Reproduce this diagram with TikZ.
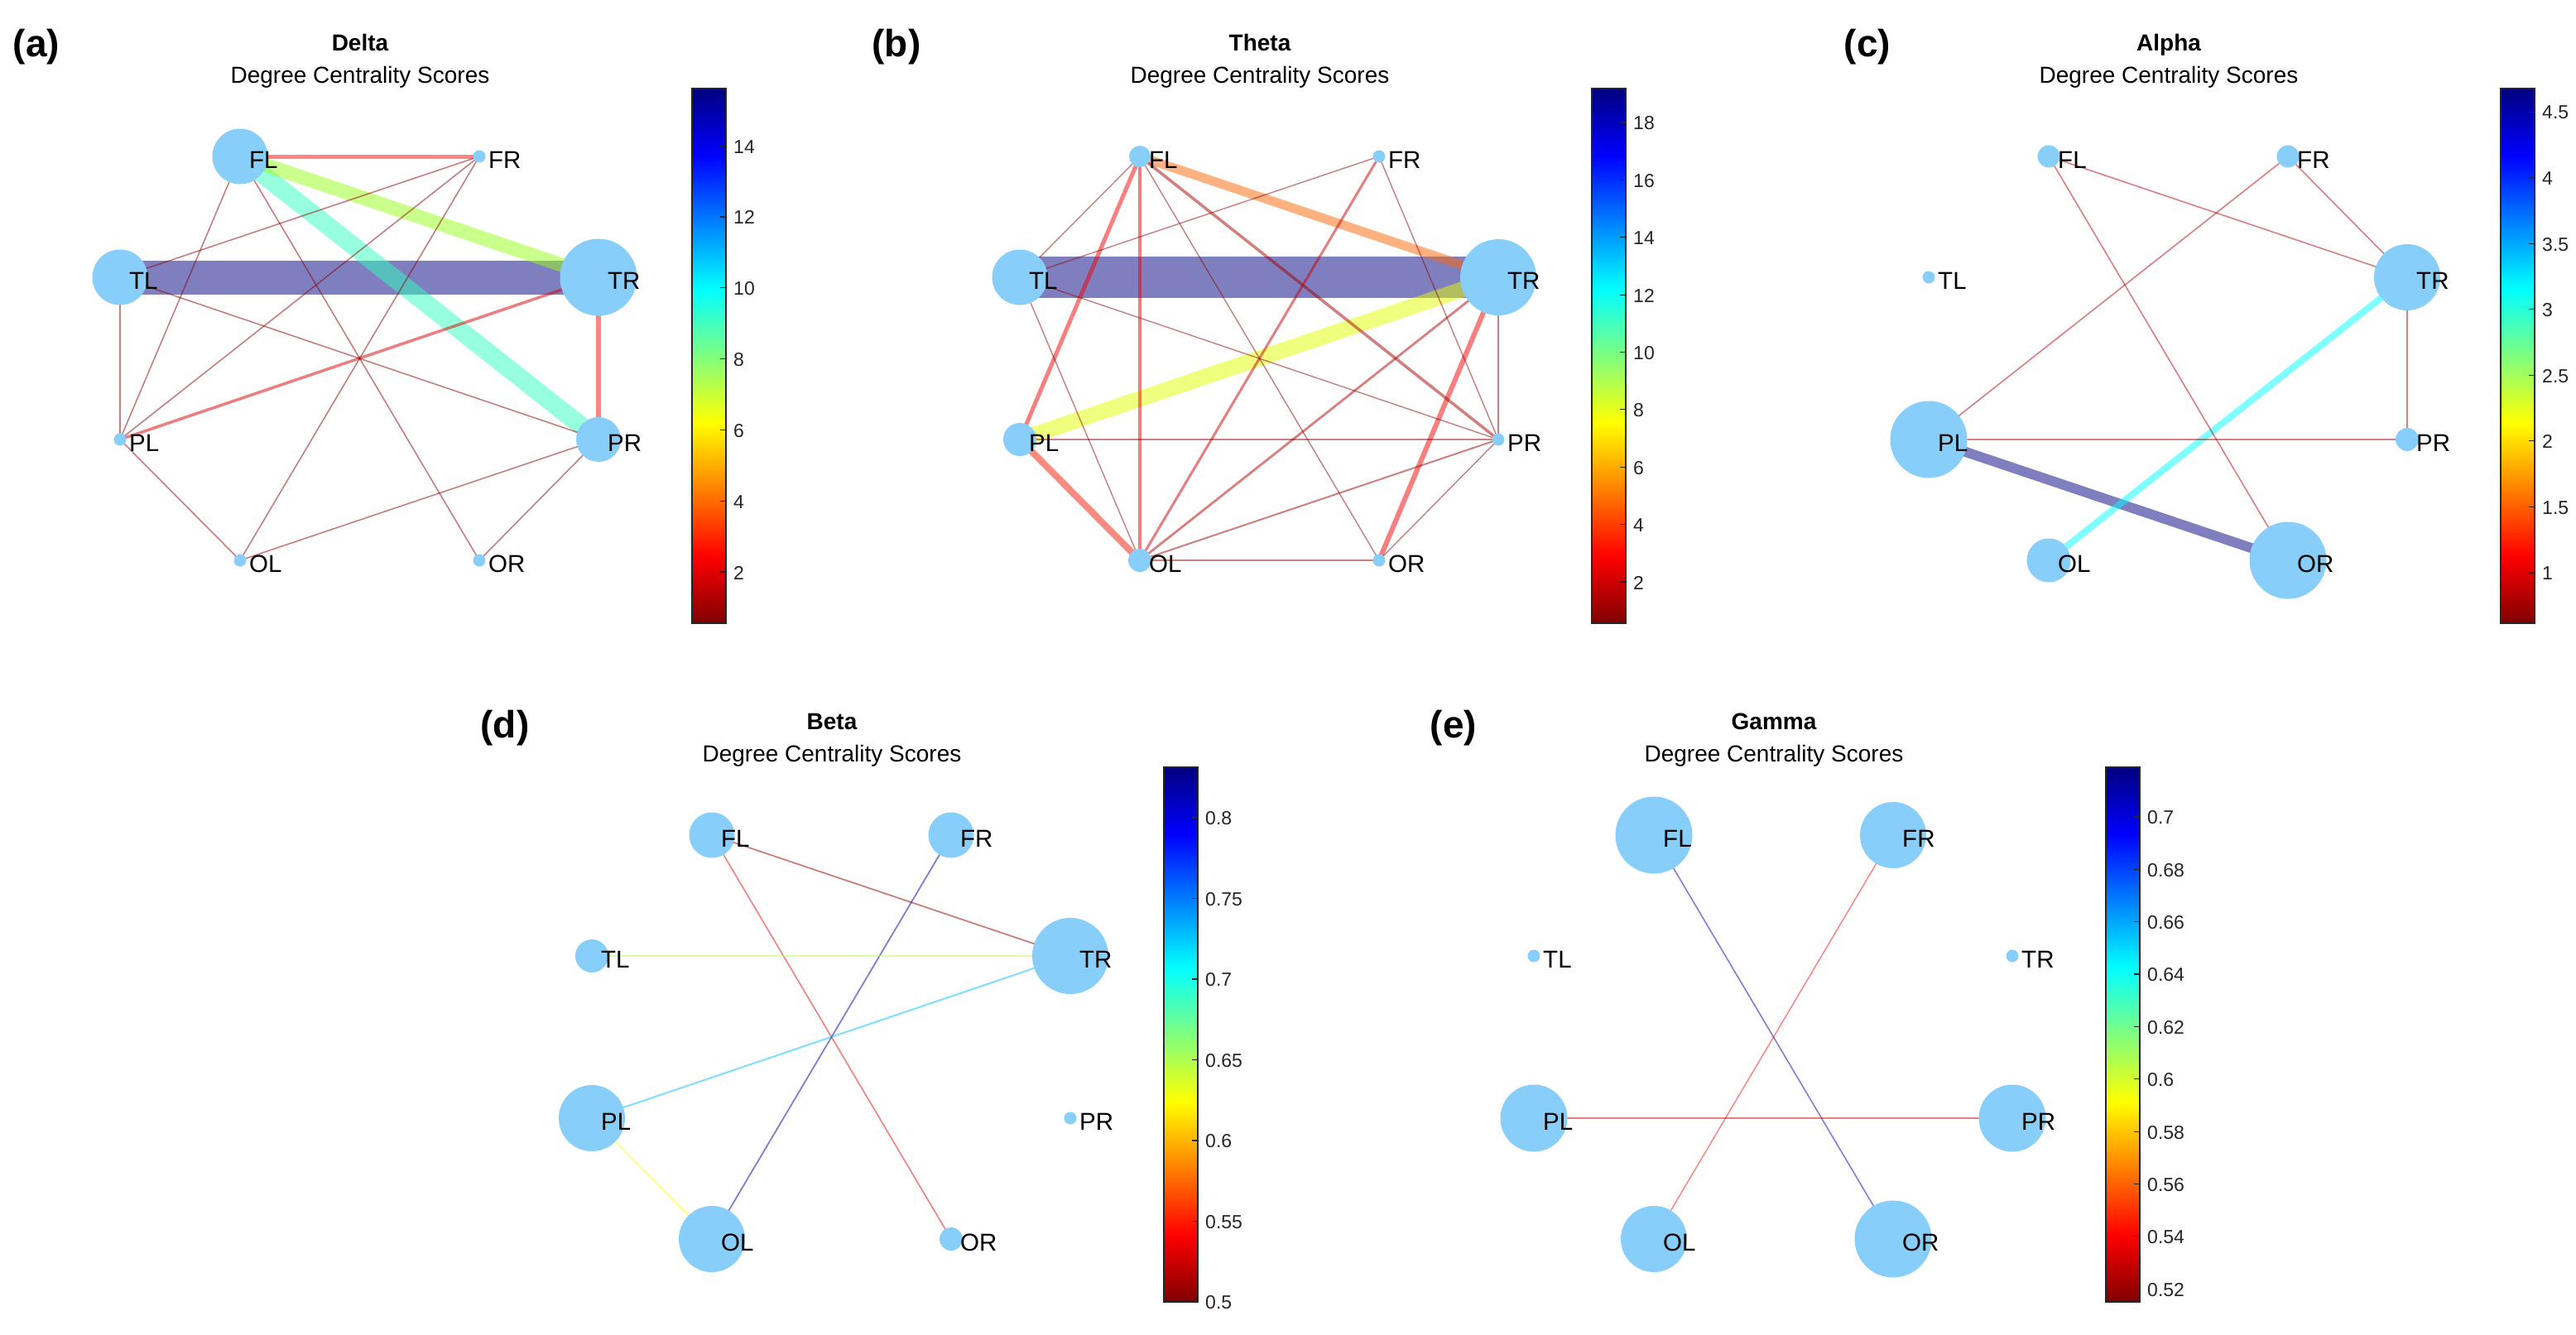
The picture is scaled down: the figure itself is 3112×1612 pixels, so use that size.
\documentclass[tikz,border=0pt]{standalone}
\usepackage{fontspec}
\setmainfont{Liberation Sans}
\pgfdeclarelayer{background}
\pgfdeclarelayer{edges}
\pgfsetlayers{background,edges,main}
\definecolor{jdr}{rgb}{0.5,0,0}
\definecolor{jred}{rgb}{1,0,0}
\definecolor{jyel}{rgb}{1,1,0}
\definecolor{jcyan}{rgb}{0,1,1}
\definecolor{jblue}{rgb}{0,0,1}
\definecolor{jnavy}{rgb}{0,0,0.5}
\definecolor{nodeblue}{rgb}{0.53,0.81,0.98}
\definecolor{tickgray}{rgb}{0.15,0.15,0.15}
\definecolor{aquaE}{rgb}{0.2,1,0.75}
\definecolor{ygE}{rgb}{0.6,1,0.1}
\definecolor{redA}{rgb}{1,0.05,0.05}
\definecolor{redB}{rgb}{0.85,0,0}
\definecolor{dkr}{rgb}{0.55,0,0}
\definecolor{yelE}{rgb}{0.9,1,0}
\definecolor{orE}{rgb}{1,0.4,0}
\definecolor{redC}{rgb}{0.95,0.1,0}
\definecolor{red95}{rgb}{0.95,0,0}
\definecolor{red90}{rgb}{0.9,0,0}
\definecolor{red85}{rgb}{0.85,0,0}
\definecolor{red80}{rgb}{0.8,0,0}
\definecolor{red70}{rgb}{0.7,0,0}
\definecolor{red65}{rgb}{0.65,0,0}
\definecolor{red60}{rgb}{0.6,0,0}
\definecolor{blue65}{rgb}{0,0,0.65}
\definecolor{blue70}{rgb}{0,0,0.7}
\definecolor{pgE}{rgb}{0.7,1,0.3}
\definecolor{skyE}{rgb}{0,0.75,1}
\pgfdeclareverticalshading{jetbar}{100bp}{color(0bp)=(jdr); color(25bp)=(jdr); color(31.25bp)=(jred); color(43.75bp)=(jyel); color(56.25bp)=(jcyan); color(68.75bp)=(jblue); color(75bp)=(jnavy); color(100bp)=(jnavy)}
\tikzset{
  nd/.style={circle, fill=nodeblue, draw=none, inner sep=0pt, outer sep=0pt},
  lbl/.style={font=\fontsize{29.5}{33}\selectfont, inner sep=0pt, anchor=base west, text=black},
  ttl/.style={font=\fontsize{28}{32}\selectfont\bfseries, inner sep=0pt, anchor=base},
  sub/.style={font=\fontsize{28}{32}\selectfont, inner sep=0pt, anchor=base},
  tick/.style={font=\fontsize{23}{27}\selectfont, text=tickgray, inner sep=0pt, anchor=west},
  tickm/.style={draw=tickgray, line width=1.2pt},
  cbframe/.style={draw=tickgray, line width=1.2pt},
  plab/.style={font=\fontsize{46}{52}\selectfont\bfseries, inner sep=0pt}
}
% prefix, diameters FL FR TL TR PL PR OL OR
\newcommand\gnodes[9]{%
  \node[nd,minimum size=#2pt] (#1FL) at (290,189) {};
  \node[nd,minimum size=#3pt] (#1FR) at (579,189) {};
  \node[nd,minimum size=#4pt] (#1TL) at (145,335) {};
  \node[nd,minimum size=#5pt] (#1TR) at (723,335) {};
  \node[nd,minimum size=#6pt] (#1PL) at (145,531) {};
  \node[nd,minimum size=#7pt] (#1PR) at (723,531) {};
  \node[nd,minimum size=#8pt] (#1OL) at (290,677) {};
  \node[nd,minimum size=#9pt] (#1OR) at (579,677) {};
  \foreach \n in {FL,FR,TL,TR,PL,PR,OL,OR}{
    \node[lbl] (#1\n t) at ([xshift=11pt,yshift=-14pt]#1\n.center) {\n};
  }%
}
\newcommand\ed[4]{\draw[line width=#4pt, draw=#3, draw opacity=0.5] (#1.center) -- (#2.center);}
\newcommand\cbar{%
  \shade[shading=jetbar] (836,107) rectangle (877,753);
  \draw[cbframe] (836,107) rectangle (877,753);
}
\newcommand\ctk[3]{\draw[tickm] (870,#2) -- (877,#2); \node[tick] (#1) at (886,#2+1) {#3};}
\newcommand\heading[3]{\node[ttl] (#1T) at (435,61) {#2}; \node[sub] (#1S) at (435,100.5) {#3};}

\begin{document}
\begin{tikzpicture}[x=1pt,y=-1pt]
\begin{pgfonlayer}{background}
\fill[white] (0,0) rectangle (3112,1612);
\end{pgfonlayer}
\useasboundingbox (0,0) rectangle (3112,1612);

% panel letters
\node[plab] (pa) at (44,57) {(a)};
\node[plab] (pb) at (1083,57) {(b)};
\node[plab] (pc) at (2256,57) {(c)};
\node[plab] (pd) at (610,880) {(d)};
\node[plab] (pe) at (1756,880) {(e)};

% ---------------- (a) Delta
\begin{scope}
\heading{a}{Delta}{Degree Centrality Scores}
\gnodes{a}{67}{15}{67}{93}{15}{54}{15}{15}
\begin{pgfonlayer}{edges}
\ed{aTL}{aTR}{jnavy}{41}
\ed{aFL}{aPR}{aquaE}{22}
\ed{aFL}{aTR}{ygE}{17}
\ed{aFL}{aFR}{redA}{5}
\ed{aTR}{aPR}{redA}{5.5}
\ed{aTR}{aPL}{redB}{3.5}
\ed{aFR}{aTL}{dkr}{1.6}
\ed{aFR}{aPL}{dkr}{1.6}
\ed{aFR}{aOL}{dkr}{1.6}
\ed{aFL}{aPL}{dkr}{1.6}
\ed{aFL}{aOR}{dkr}{1.6}
\ed{aTL}{aPL}{dkr}{1.6}
\ed{aTL}{aPR}{dkr}{1.6}
\ed{aPL}{aOL}{dkr}{1.6}
\ed{aOL}{aPR}{dkr}{1.6}
\ed{aPR}{aOR}{dkr}{1.6}
\end{pgfonlayer}
\cbar
\ctk{a2}{691.0}{2}
\ctk{a4}{605.2}{4}
\ctk{a6}{519.4}{6}
\ctk{a8}{433.5}{8}
\ctk{a10}{347.7}{10}
\ctk{a12}{261.9}{12}
\ctk{a14}{176.1}{14}
\end{scope}

% ---------------- (b) Theta
\begin{scope}[shift={(1087,0)}]
\heading{b}{Theta}{Degree Centrality Scores}
\gnodes{b}{26}{15}{67}{92}{40}{15}{28}{15}
\begin{pgfonlayer}{edges}
\ed{bTL}{bTR}{jnavy}{50}
\ed{bPL}{bTR}{yelE}{19}
\ed{bFL}{bTR}{orE}{11}
\ed{bPL}{bOL}{redC}{8}
\ed{bFL}{bPL}{red95}{5}
\ed{bTR}{bOR}{red95}{6}
\ed{bFL}{bOL}{red90}{4.5}
\ed{bFL}{bPR}{red65}{3.5}
\ed{bFR}{bOL}{red80}{3}
\ed{bTR}{bOL}{red70}{2.8}
\ed{bPL}{bPR}{red60}{2}
\ed{bOL}{bPR}{red60}{2}
\ed{bOL}{bOR}{red60}{2}
\ed{bTR}{bPR}{red60}{2}
\ed{bFL}{bTL}{dkr}{1.4}
\ed{bFR}{bTL}{dkr}{1.4}
\ed{bFR}{bPR}{dkr}{1.4}
\ed{bFL}{bOR}{dkr}{1.4}
\ed{bTL}{bOL}{dkr}{1.4}
\ed{bTL}{bPR}{dkr}{1.4}
\ed{bPR}{bOR}{dkr}{1.4}
\end{pgfonlayer}
\cbar
\ctk{b2}{703.0}{2}
\ctk{b4}{633.5}{4}
\ctk{b6}{564.2}{6}
\ctk{b8}{494.8}{8}
\ctk{b10}{425.4}{10}
\ctk{b12}{356.1}{12}
\ctk{b14}{286.7}{14}
\ctk{b16}{217.4}{16}
\ctk{b18}{148.0}{18}
\end{scope}

% ---------------- (c) Alpha
\begin{scope}[shift={(2185,0)}]
\heading{c}{Alpha}{Degree Centrality Scores}
\gnodes{c}{27}{27}{15}{80}{93}{28}{53}{93}
\begin{pgfonlayer}{edges}
\ed{cPL}{cOR}{jnavy}{12}
\ed{cOL}{cTR}{jcyan}{8}
\ed{cFL}{cTR}{red70}{1.6}
\ed{cFL}{cOR}{red70}{1.6}
\ed{cFR}{cPL}{red70}{1.6}
\ed{cFR}{cTR}{red70}{1.6}
\ed{cTR}{cPR}{red70}{1.6}
\ed{cPL}{cPR}{red70}{1.6}
\end{pgfonlayer}
\cbar
\ctk{c1}{691.9}{1}
\ctk{c15}{612.4}{1.5}
\ctk{c2}{532.8}{2}
\ctk{c25}{453.3}{2.5}
\ctk{c3}{373.7}{3}
\ctk{c35}{294.2}{3.5}
\ctk{c4}{214.6}{4}
\ctk{c45}{135.1}{4.5}
\end{scope}

% ---------------- (d) Beta
\begin{scope}[shift={(570,820)}]
\heading{d}{Beta}{Degree Centrality Scores}
\gnodes{d}{55}{55}{40}{92}{80}{15}{80}{28}
\begin{pgfonlayer}{edges}
\ed{dFL}{dTR}{dkr}{1.8}
\ed{dFL}{dOR}{red90}{1.6}
\ed{dFR}{dOL}{blue65}{1.8}
\ed{dTL}{dTR}{pgE}{2.5}
\ed{dPL}{dTR}{skyE}{2}
\ed{dPL}{dOL}{jyel}{1.8}
\end{pgfonlayer}
\cbar
\ctk{d50}{753.0}{0.5}
\ctk{d55}{655.5}{0.55}
\ctk{d60}{558.0}{0.6}
\ctk{d65}{460.4}{0.65}
\ctk{d70}{362.9}{0.7}
\ctk{d75}{265.4}{0.75}
\ctk{d80}{167.9}{0.8}
\end{scope}

% ---------------- (e) Gamma
\begin{scope}[shift={(1708,820)}]
\heading{e}{Gamma}{Degree Centrality Scores}
\gnodes{e}{93}{80}{15}{15}{81}{81}{80}{93}
\begin{pgfonlayer}{edges}
\ed{eFL}{eOR}{blue70}{1.6}
\ed{eFR}{eOL}{jred}{1.4}
\ed{ePL}{ePR}{red85}{1.6}
\end{pgfonlayer}
\cbar
\ctk{e52}{737.2}{0.52}
\ctk{e54}{673.8}{0.54}
\ctk{e56}{610.4}{0.56}
\ctk{e58}{547.1}{0.58}
\ctk{e60}{483.7}{0.6}
\ctk{e62}{420.4}{0.62}
\ctk{e64}{357.0}{0.64}
\ctk{e66}{293.6}{0.66}
\ctk{e68}{230.3}{0.68}
\ctk{e70}{166.9}{0.7}
\end{scope}
\end{tikzpicture}
\end{document}
